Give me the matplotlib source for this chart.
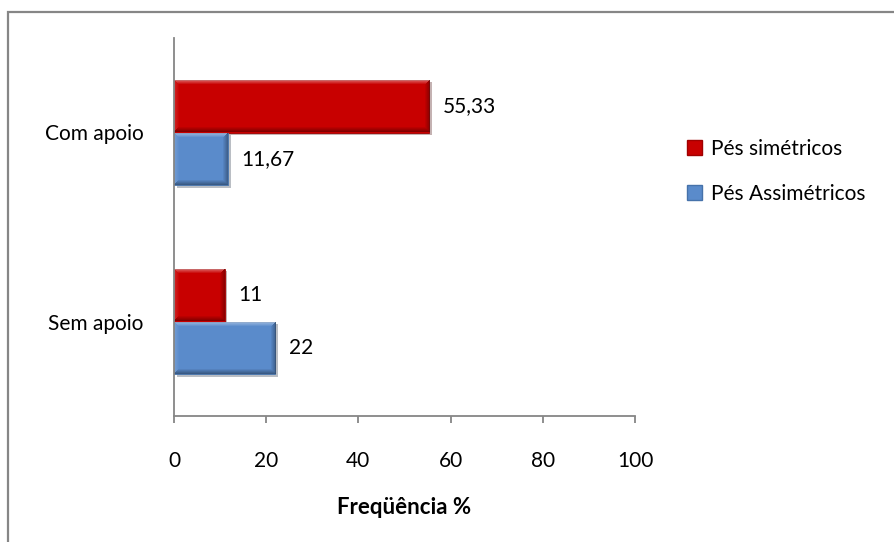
import matplotlib
matplotlib.use("Agg")
import matplotlib.pyplot as plt
import matplotlib.patheffects as pe
from matplotlib.patches import Rectangle, Patch
import numpy as np

# Data
categories = ["Sem apoio", "Com apoio"]
series_names = ["Pés simétricos", "Pés Assimétricos"]
simetricos = [11, 55.33]
assimetricos = [22, 11.67]
x_ticks = [0, 20, 40, 60, 80, 100]
x_label = "Freqüência %"

RED = "#C80000"
BLUE = "#5A8BCB"
GRAY = "#868686"
FONT = "Lato"
FS = 15

plt.rcParams["font.family"] = [FONT, "DejaVu Sans"]

W, H = 895, 542
fig = plt.figure(figsize=(W / 100, H / 100), dpi=100)

# chart frame
fig.patches.append(Rectangle((8 / W, -0.05), 1.2, 1 - 12 / H + 0.05,
                             transform=fig.transFigure, fill=False,
                             edgecolor=GRAY, linewidth=1.6, zorder=0))

ax = fig.add_axes([174 / W, (H - 416) / H, 461 / W, 378 / H])
ax.set_xlim(0, 100)
ax.set_ylim(-0.5, 1.5)

y = np.arange(len(categories))
h = 0.28
shadow = [pe.SimplePatchShadow(offset=(2, -2), alpha=0.3), pe.Normal()]

bars_sim = ax.barh(y + h / 2, simetricos, height=h, color=RED,
                   edgecolor="#A00000", linewidth=0.6, zorder=3)
bars_asm = ax.barh(y - h / 2, assimetricos, height=h, color=BLUE,
                   edgecolor="#4672AA", linewidth=0.6, zorder=3)


def bevel_overlay(bar, size=5):
    """Soft bevel: light top/left rim, dark bottom/right rim, clipped to the bar."""
    x0, y0 = bar.get_x(), bar.get_y()
    x1, y1 = x0 + bar.get_width(), y0 + bar.get_height()
    (px0, py0), (px1, py1) = ax.transData.transform([(x0, y0), (x1, y1)])
    w = max(int(round(px1 - px0)), 2)
    hh = max(int(round(py1 - py0)), 2)
    ii, jj = np.mgrid[0:hh, 0:w]
    d = np.stack([ii, hh - 1 - ii, jj, w - 1 - jj])  # top, bottom, left, right
    nearest = d.argmin(axis=0)
    m = d.min(axis=0)
    fade = np.clip(1 - m / size, 0, 1)
    rgba = np.zeros((hh, w, 4))
    tone = np.array([1.0, 0.0, 1.0, 0.0])[nearest]
    strength = np.array([0.45, 0.35, 0.15, 0.3])[nearest]
    rgba[..., 0] = tone
    rgba[..., 1] = tone
    rgba[..., 2] = tone
    rgba[..., 3] = strength * fade
    im = ax.imshow(rgba, extent=(x0, x1, y0, y1), origin="upper",
                   aspect="auto", interpolation="bilinear", zorder=4)
    im.set_clip_path(bar)


for b in list(bars_sim) + list(bars_asm):
    b.set_path_effects(shadow)
    bevel_overlay(b)


def fmt(v):
    return f"{v:g}".replace(".", ",")


for bars, vals in ((bars_sim, simetricos), (bars_asm, assimetricos)):
    for b, v in zip(bars, vals):
        ax.annotate(fmt(v), (v, b.get_y() + b.get_height() / 2),
                    xytext=(10, 0), textcoords="offset points",
                    va="center", ha="left", fontsize=FS, color="black")

ax.set_xlim(0, 100)
ax.set_ylim(-0.5, 1.5)
ax.set_xticks(x_ticks)
ax.set_xticklabels([str(t) for t in x_ticks], fontsize=FS)
ax.set_yticks(y)
ax.set_yticklabels(categories, fontsize=FS)

for s in ("top", "right"):
    ax.spines[s].set_visible(False)
for s in ("left", "bottom"):
    ax.spines[s].set_color(GRAY)
    ax.spines[s].set_linewidth(1.3)
    ax.spines[s].set_zorder(5)

ax.tick_params(axis="x", length=5, width=1.3, color=GRAY, pad=20)
ax.tick_params(axis="y", length=0, pad=22)

ax.set_xlabel(x_label, fontsize=FS + 1, fontweight="bold", va="center")
ax.xaxis.set_label_coords(0.5, (416 - 507) / 378)

handles = [Patch(facecolor=RED, edgecolor="#A00000"),
           Patch(facecolor=BLUE, edgecolor="#4672AA")]
fig.legend(handles, series_names, loc="center left",
           bbox_to_anchor=(668 / W, 1 - 171 / H), frameon=False,
           fontsize=FS, handlelength=0.75, handleheight=0.75,
           handletextpad=0.4, labelspacing=1.2)

fig.savefig("out.png", dpi=100)
